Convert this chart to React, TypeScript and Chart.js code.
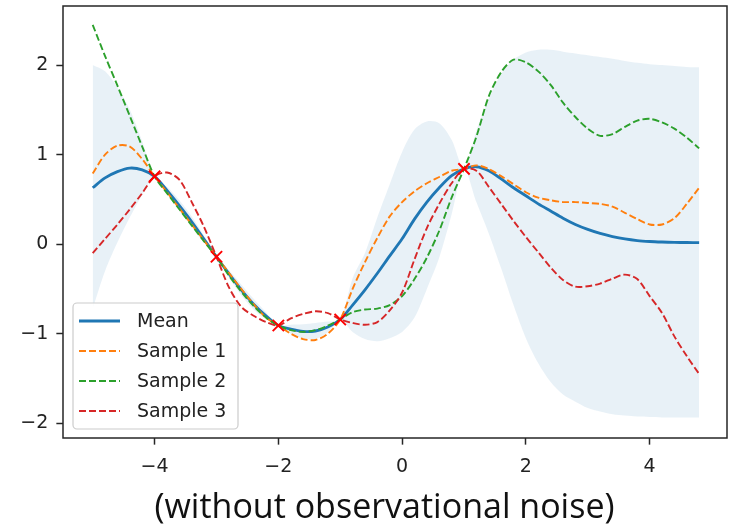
import { useEffect, useRef } from 'react';
import { Chart, registerables } from 'chart.js';

Chart.register(...registerables);

// ---- data ----
const X_VALUES = [
  -5, -4.8, -4.6, -4.4, -4.2, -4, -3.8, -3.6, -3.4, -3.2,
  -3, -2.8, -2.6, -2.4, -2.2, -2, -1.8, -1.6, -1.4, -1.2,
  -1, -0.8, -0.6, -0.4, -0.2, 0, 0.2, 0.4, 0.6, 0.8,
  1, 1.2, 1.4, 1.6, 1.8, 2, 2.2, 2.4, 2.6, 2.8,
  3, 3.2, 3.4, 3.6, 3.8, 4, 4.2, 4.4, 4.6, 4.8,
];

const MEAN = [
  0.63, 0.74, 0.81, 0.85, 0.83, 0.757, 0.6, 0.43, 0.25, 0.055,
  -0.141, -0.33, -0.51, -0.67, -0.8, -0.909, -0.95, -0.975, -0.97, -0.925,
  -0.841, -0.68, -0.51, -0.325, -0.13, 0.06, 0.28, 0.47, 0.63, 0.765,
  0.841, 0.865, 0.82, 0.73, 0.63, 0.54, 0.45, 0.37, 0.29, 0.22,
  0.165, 0.12, 0.085, 0.058, 0.04, 0.03, 0.024, 0.02, 0.018, 0.017,
];

const BAND_UPPER = [
  2.0, 1.93, 1.75, 1.5, 1.15, 0.757, 0.64, 0.49, 0.31, 0.095,
  -0.141, -0.29, -0.45, -0.61, -0.76, -0.909, -0.9, -0.895, -0.88, -0.865,
  -0.841, -0.38, -0.1, 0.3, 0.67, 1.03, 1.28, 1.37, 1.35, 1.165,
  0.841, 1.265, 1.62, 1.9, 2.06, 2.14, 2.17, 2.17, 2.15, 2.13,
  2.11, 2.09, 2.07, 2.045, 2.025, 2.01, 2.0, 1.99, 1.98, 1.975,
];

const BAND_LOWER = [
  -0.72, -0.3, 0.02, 0.3, 0.55, 0.757, 0.56, 0.37, 0.19, 0.015,
  -0.141, -0.37, -0.57, -0.73, -0.84, -0.909, -1.0, -1.055, -1.06, -0.985,
  -0.841, -0.98, -1.06, -1.085, -1.05, -0.98, -0.82, -0.5, -0.15, 0.33,
  0.841, 0.47, 0.12, -0.27, -0.68, -1.05, -1.33, -1.54, -1.68, -1.76,
  -1.83, -1.87, -1.9, -1.915, -1.925, -1.93, -1.935, -1.935, -1.935, -1.935,
];

const SAMPLE_1 = [
  0.79, 1.0, 1.1, 1.09, 0.95, 0.757, 0.58, 0.4, 0.22, 0.04,
  -0.141, -0.32, -0.5, -0.67, -0.82, -0.909, -1.0, -1.06, -1.07, -1.0,
  -0.841, -0.5, -0.2, 0.07, 0.31, 0.47, 0.59, 0.68, 0.75, 0.82,
  0.841, 0.88, 0.84, 0.76, 0.67, 0.58, 0.52, 0.49, 0.47, 0.47,
  0.46, 0.45, 0.42, 0.35, 0.28, 0.22, 0.22, 0.29, 0.45, 0.63,
];

const SAMPLE_2 = [
  2.45, 2.1, 1.77, 1.43, 1.09, 0.757, 0.57, 0.39, 0.21, 0.03,
  -0.141, -0.35, -0.53, -0.69, -0.82, -0.909, -0.96, -0.98, -0.96, -0.91,
  -0.841, -0.76, -0.73, -0.72, -0.68, -0.58, -0.39, -0.15, 0.15, 0.52,
  0.841, 1.2, 1.65, 1.92, 2.06, 2.03, 1.93, 1.78, 1.58, 1.42,
  1.29, 1.21, 1.23, 1.31, 1.38, 1.4, 1.36, 1.29, 1.19, 1.07,
];

const SAMPLE_3 = [
  -0.1, 0.06, 0.22, 0.39, 0.57, 0.757, 0.8, 0.72, 0.47, 0.19,
  -0.141, -0.48, -0.7, -0.8, -0.87, -0.909, -0.83, -0.78, -0.75, -0.77,
  -0.841, -0.88, -0.9, -0.87, -0.74, -0.54, -0.17, 0.18, 0.45, 0.68,
  0.841, 0.82, 0.64, 0.45, 0.26, 0.08, -0.09, -0.26, -0.4, -0.475,
  -0.47, -0.44, -0.385, -0.34, -0.39, -0.58, -0.77, -1.03, -1.25, -1.45,
];

const OBS_X = [-4, -3, -2, -1, 1];
const OBS_Y = [0.757, -0.141, -0.909, -0.841, 0.841];

const X_TICKS = [-4, -2, 0, 2, 4];
const X_TICK_LABELS = ['\u22124', '\u22122', '0', '2', '4'];
const Y_TICKS = [-2, -1, 0, 1, 2];
const Y_TICK_LABELS = ['\u22122', '\u22121', '0', '1', '2'];

const SERIES_LABELS = ['Mean', 'Sample 1', 'Sample 2', 'Sample 3'];
const TITLE = '(without observational noise)';

// ---- styles ----
const TEXT_COLOR = '#222222';
const FRAME_COLOR = '#262626';
const TICK_FONT = { family: '"DejaVu Sans", sans-serif', size: 19 };

function toPoints(xs: number[], ys: number[]) {
  return xs.map((x, i) => ({ x, y: ys[i] }));
}

const overlayPlugin = {
  id: 'overlay',
  afterDatasetsDraw(chart: any) {
    const { ctx, chartArea } = chart;
    const { left, top, right, bottom } = chartArea;
    ctx.save();
    // axes frame
    ctx.setLineDash([]);
    ctx.strokeStyle = FRAME_COLOR;
    ctx.lineWidth = 1.5;
    ctx.strokeRect(left, top, right - left, bottom - top);

    // legend box (lower left, inside axes)
    const bw = 165;
    const bh = 126;
    const bx = left + 10;
    const by = bottom - 9 - bh;
    ctx.beginPath();
    if (ctx.roundRect) ctx.roundRect(bx, by, bw, bh, 4);
    else ctx.rect(bx, by, bw, bh);
    ctx.fillStyle = 'rgba(255,255,255,0.8)';
    ctx.fill();
    ctx.strokeStyle = '#cccccc';
    ctx.lineWidth = 1.2;
    ctx.stroke();

    const items = chart.data.datasets.filter((d: any) => SERIES_LABELS.includes(d.label));
    items.forEach((d: any, i: number) => {
      const cy = by + 18 + i * 30;
      ctx.beginPath();
      ctx.strokeStyle = d.borderColor;
      ctx.lineWidth = d.borderWidth;
      ctx.setLineDash(d.borderDash || []);
      ctx.moveTo(bx + 6, cy);
      ctx.lineTo(bx + 47, cy);
      ctx.stroke();
      ctx.setLineDash([]);
      ctx.fillStyle = TEXT_COLOR;
      ctx.font = '19px "DejaVu Sans", sans-serif';
      ctx.textAlign = 'left';
      ctx.textBaseline = 'middle';
      ctx.fillText(d.label, bx + 64, cy + 1);
    });
    ctx.restore();
  },
  afterDraw(chart: any) {
    const { ctx } = chart;
    ctx.save();
    ctx.fillStyle = '#111111';
    ctx.font = '34px "Open Sans", sans-serif';
    ctx.textAlign = 'center';
    ctx.textBaseline = 'alphabetic';
    ctx.fillText(TITLE, 384.5, 518);
    ctx.restore();
  },
};

export default function App() {
  const canvasRef = useRef<HTMLCanvasElement | null>(null);

  useEffect(() => {
    if (!canvasRef.current) return;
    const dashed = [7, 3];
    const chart = new Chart(canvasRef.current, {
      type: 'line',
      data: {
        datasets: [
          {
            label: 'band upper',
            data: toPoints(X_VALUES, BAND_UPPER),
            borderWidth: 0,
            pointRadius: 0,
            fill: '+1',
            backgroundColor: 'rgba(31,119,180,0.1)',
            borderColor: 'rgba(0,0,0,0)',
            tension: 0.3,
            order: 5,
          },
          {
            label: 'band lower',
            data: toPoints(X_VALUES, BAND_LOWER),
            borderWidth: 0,
            pointRadius: 0,
            fill: false,
            borderColor: 'rgba(0,0,0,0)',
            tension: 0.3,
            order: 6,
          },
          {
            label: SERIES_LABELS[0],
            data: toPoints(X_VALUES, MEAN),
            borderColor: '#1f77b4',
            borderWidth: 2.85,
            pointRadius: 0,
            fill: false,
            tension: 0.3,
            order: 4,
          },
          {
            label: SERIES_LABELS[1],
            data: toPoints(X_VALUES, SAMPLE_1),
            borderColor: '#ff7f0e',
            borderWidth: 1.9,
            borderDash: dashed,
            pointRadius: 0,
            fill: false,
            tension: 0.3,
            order: 3,
          },
          {
            label: SERIES_LABELS[2],
            data: toPoints(X_VALUES, SAMPLE_2),
            borderColor: '#2ca02c',
            borderWidth: 1.9,
            borderDash: dashed,
            pointRadius: 0,
            fill: false,
            tension: 0.3,
            order: 2,
          },
          {
            label: SERIES_LABELS[3],
            data: toPoints(X_VALUES, SAMPLE_3),
            borderColor: '#d62728',
            borderWidth: 1.9,
            borderDash: dashed,
            pointRadius: 0,
            fill: false,
            tension: 0.3,
            order: 1,
          },
          {
            label: 'observations',
            data: toPoints(OBS_X, OBS_Y),
            showLine: false,
            pointStyle: 'crossRot',
            pointRadius: 8,
            borderColor: '#ff0000',
            backgroundColor: 'rgba(0,0,0,0)',
            borderWidth: 1.9,
            order: 0,
          },
        ],
      },
      options: {
        responsive: false,
        animation: false,
        devicePixelRatio: 1,
        events: [],
        layout: { autoPadding: false, padding: { top: 6, right: 3, left: 0, bottom: 0 } },
        plugins: {
          legend: { display: false },
          tooltip: { enabled: false },
          title: { display: false },
        },
        scales: {
          x: {
            type: 'linear',
            min: -5.48,
            max: 5.25,
            afterBuildTicks: (s: any) => {
              s.ticks = X_TICKS.map((v) => ({ value: v }));
            },
            afterFit: (s: any) => {
              s.height = 90;
              s.paddingLeft = 0;
              s.paddingRight = 0;
            },
            ticks: {
              callback: (v: any) => X_TICK_LABELS[X_TICKS.indexOf(Number(v))],
              font: TICK_FONT,
              color: TEXT_COLOR,
              padding: 11,
              autoSkip: false,
              maxRotation: 0,
            },
            grid: {
              drawOnChartArea: false,
              drawTicks: true,
              tickLength: 6.65,
              tickWidth: 1.5,
              tickColor: FRAME_COLOR,
            },
            border: { display: false },
          },
          y: {
            type: 'linear',
            min: -2.165,
            max: 2.66,
            afterBuildTicks: (s: any) => {
              s.ticks = Y_TICKS.map((v) => ({ value: v }));
            },
            afterFit: (s: any) => {
              s.width = 63;
              s.paddingTop = 0;
              s.paddingBottom = 0;
            },
            ticks: {
              callback: (v: any) => Y_TICK_LABELS[Y_TICKS.indexOf(Number(v))],
              font: TICK_FONT,
              color: TEXT_COLOR,
              padding: 8,
              autoSkip: false,
            },
            grid: {
              drawOnChartArea: false,
              drawTicks: true,
              tickLength: 6.65,
              tickWidth: 1.5,
              tickColor: FRAME_COLOR,
            },
            border: { display: false },
          },
        },
      },
      plugins: [overlayPlugin],
    } as any);
    return () => chart.destroy();
  }, []);

  return (
    <div
      style={{
        position: 'fixed',
        left: 0,
        top: 0,
        width: 730,
        height: 528,
        background: '#ffffff',
      }}
    >
      <canvas ref={canvasRef} width={730} height={528} style={{ display: 'block' }} />
    </div>
  );
}
